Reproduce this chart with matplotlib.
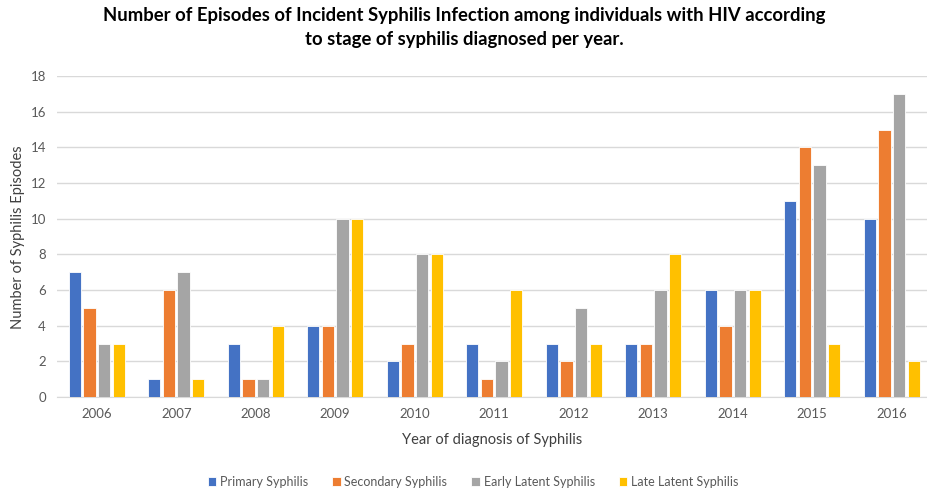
import matplotlib
matplotlib.use("Agg")
import matplotlib.pyplot as plt
import numpy as np

plt.rcParams["font.family"] = ["Lato", "DejaVu Sans"]

years = ["2006", "2007", "2008", "2009", "2010", "2011",
         "2012", "2013", "2014", "2015", "2016"]
primary = [7, 1, 3, 4, 2, 3, 3, 3, 6, 11, 10]
secondary = [5, 6, 1, 4, 3, 1, 2, 3, 4, 14, 15]
early_latent = [3, 7, 1, 10, 8, 2, 5, 6, 6, 13, 17]
late_latent = [3, 1, 4, 10, 8, 6, 3, 8, 6, 3, 2]

series = [
    ("Primary Syphilis", primary, "#4472C4"),
    ("Secondary Syphilis", secondary, "#ED7D31"),
    ("Early Latent Syphilis", early_latent, "#A5A5A5"),
    ("Late Latent Syphilis", late_latent, "#FFC000"),
]

W, H = 928, 491
fig = plt.figure(figsize=(W / 100, H / 100), dpi=100)
ax = fig.add_axes([57 / W, (H - 397) / H, (928 - 57) / W, (397 - 76) / H])

x = np.arange(len(years))
step = 0.183
width = 0.152
for i, (name, vals, col) in enumerate(series):
    ax.bar(x + (i - 1.5) * step, vals, width, color=col, label=name,
           edgecolor="white", linewidth=0.6, zorder=3)

ax.set_xlim(-0.5, 10.456)
ax.set_ylim(0, 18)
ax.set_yticks(range(0, 19, 2))
ax.set_xticks(x)
ax.set_xticklabels(years)
ax.grid(axis="y", color="#D9D9D9", linewidth=1, zorder=0)
for s in ["top", "right", "left"]:
    ax.spines[s].set_visible(False)
ax.spines["bottom"].set_color("#D9D9D9")
ax.tick_params(length=0, colors="#595959", labelsize=9.5, pad=8)

# y label placed by hand so it stays inside the figure
fig.text(18 / W, 1 - 237 / H, "Number of Syphilis Episodes", rotation=90,
         ha="center", va="center", fontsize=10.5, color="#404040")
ax.set_xlabel("Year of diagnosis of Syphilis", fontsize=10.5, color="#404040", labelpad=9)

fig.text(0.5, 0.985, "Number of Episodes of Incident Syphilis Infection among individuals with HIV according\nto stage of syphilis diagnosed per year.",
         ha="center", va="top", fontsize=13.3, fontweight="bold", linespacing=1.45)

leg = fig.legend(loc="center", bbox_to_anchor=(473 / W, 1 - 482 / H), ncol=4, frameon=False,
                 fontsize=9, handlelength=0.7, handleheight=0.7, handletextpad=0.3,
                 columnspacing=1.9)
for t in leg.get_texts():
    t.set_color("#595959")

fig.savefig("out.png", dpi=100)
